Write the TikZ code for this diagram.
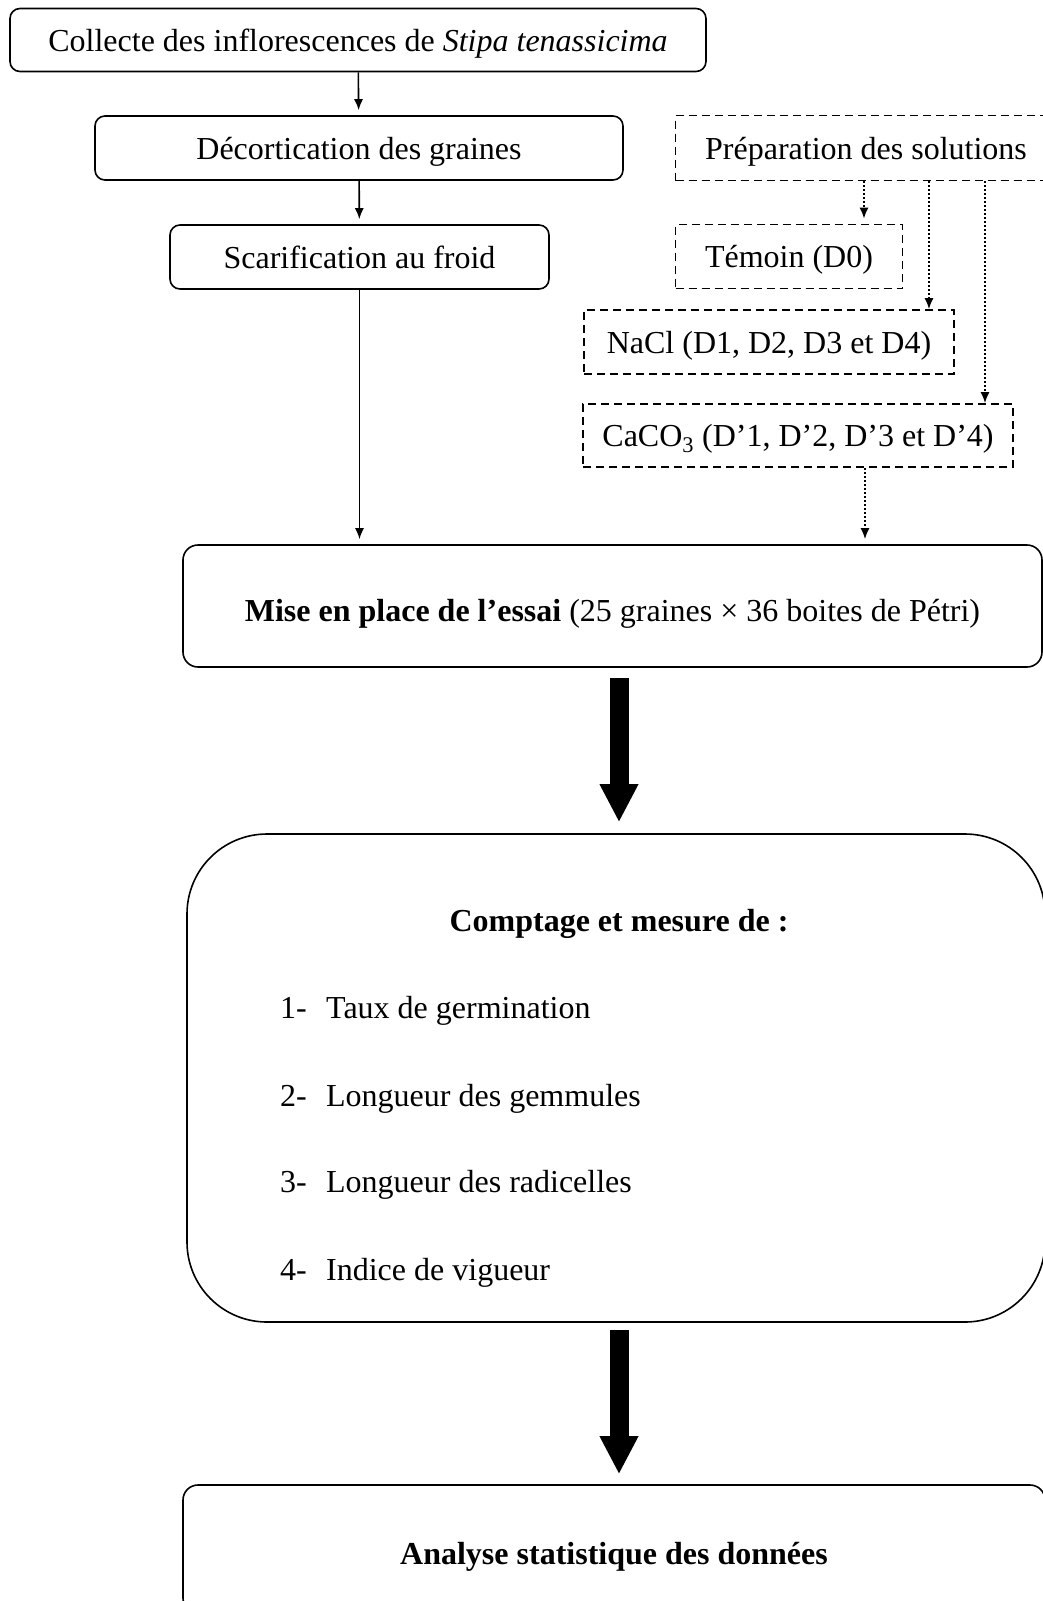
\documentclass[tikz,border=0pt]{standalone}
\usepackage{fontspec}
\setmainfont{Liberation Serif}
\usetikzlibrary{arrows.meta}

\begin{document}
\begin{tikzpicture}[x=1pt, y=-1pt, >={Latex[length=11pt,width=9pt]},
	texte/.style={font=\fontsize{32}{38}\selectfont, inner sep=0pt, text height=22pt, text depth=0pt},
	boite/.style={texte, draw, line width=1.6pt, rounded corners=10pt},
	pointille/.style={texte, draw, line width=1.6pt, dash pattern=on 8pt off 5pt},
	fleche/.style={->, line width=1.6pt, shorten >=5pt},
	fleche pointee/.style={->, line width=1.8pt, dash pattern=on 1.8pt off 2.2pt},
	grosse fleche/.style={-{Triangle[length=38pt,width=36pt]}, line width=19pt}]
	
	% Cadre de la page
	\useasboundingbox (0,0) rectangle (1043,1601);
	\clip (0,0) rectangle (1043,1601);
	
	% Colonne de gauche : préparation des graines
	\node[boite, minimum width=696pt, minimum height=63pt] (collecte) at (358,40) {Collecte des inflorescences de \textit{Stipa tenassicima}};
	\node[boite, minimum width=528pt, minimum height=64pt] (decort) at (359,148) {Décortication des graines};
	\node[boite, minimum width=379pt, minimum height=64pt] (scarif) at (359.5,257) {Scarification au froid};
	
	% Colonne de droite : solutions (cadres en tirets)
	\node[pointille, minimum width=381pt, minimum height=65pt] (prep) at (866,148) {Préparation des solutions};
	\node[pointille, minimum width=227pt, minimum height=64pt] (temoin) at (789,256.5) {Témoin (D0)};
	\node[pointille, minimum width=370pt, minimum height=64pt] (nacl) at (769,342) {NaCl (D1, D2, D3 et D4)};
	\node[pointille, minimum width=430pt, minimum height=63pt] (caco) at (798,435.5) {CaCO\textsubscript{3} (D’1, D’2, D’3 et D’4)};
	
	% Mise en place de l'essai
	\node[boite, rounded corners=15pt, minimum width=859pt, minimum height=122pt, text height=30pt] (mise) at (612.5,606) {\textbf{Mise en place de l’essai} (25 graines × 36 boites de Pétri)};
	
	% Comptage et mesures
	\node[boite, rounded corners=80pt, minimum width=858pt, minimum height=488pt] (comptage) at (616,1078) {};
	\node[texte, font=\bfseries\fontsize{32}{38}\selectfont] (titre) at (619,920) {Comptage et mesure de :};
	\foreach \i/\y/\txt in {1/1007/Taux de germination, 2/1095/Longueur des gemmules, 3/1181/Longueur des radicelles, 4/1269/Indice de vigueur} {
		\node[texte, anchor=west] (item\i) at (280,\y) {\makebox[46pt][l]{\i-}\txt};
	}
	
	% Analyse statistique
	\node[boite, rounded corners=15pt, minimum width=862pt, minimum height=128pt, text height=30pt, font=\bfseries\fontsize{32}{38}\selectfont] (analyse) at (614,1549) {Analyse statistique des données};
	
	% Flèches simples
	\draw[fleche] (collecte) -- (decort);
	\draw[fleche] (decort) -- (scarif);
	\draw[fleche] (scarif.south) -- (scarif.south |- mise.north);
	
	% Flèches en pointillés
	\draw[fleche pointee, shorten >=5pt] ([xshift=-2pt]prep.south) -- ([xshift=-2pt]prep.south |- temoin.north);
	\draw[fleche pointee] ([xshift=63pt]prep.south) -- ([xshift=63pt]prep.south |- nacl.north);
	\draw[fleche pointee] ([xshift=119pt]prep.south) -- ([xshift=119pt]prep.south |- caco.north);
	\draw[fleche pointee, shorten >=5pt] ([xshift=67pt]caco.south) -- ([xshift=67pt]caco.south |- mise.north);
	
	% Grosses flèches
	\coordinate (axe) at (619,0);
	\draw[grosse fleche, shorten <=10pt, shorten >=11pt] (mise.south -| axe) -- (comptage.north -| axe);
	\draw[grosse fleche, shorten <=7pt, shorten >=10pt] (comptage.south -| axe) -- (analyse.north -| axe);
	
\end{tikzpicture}
\end{document}
